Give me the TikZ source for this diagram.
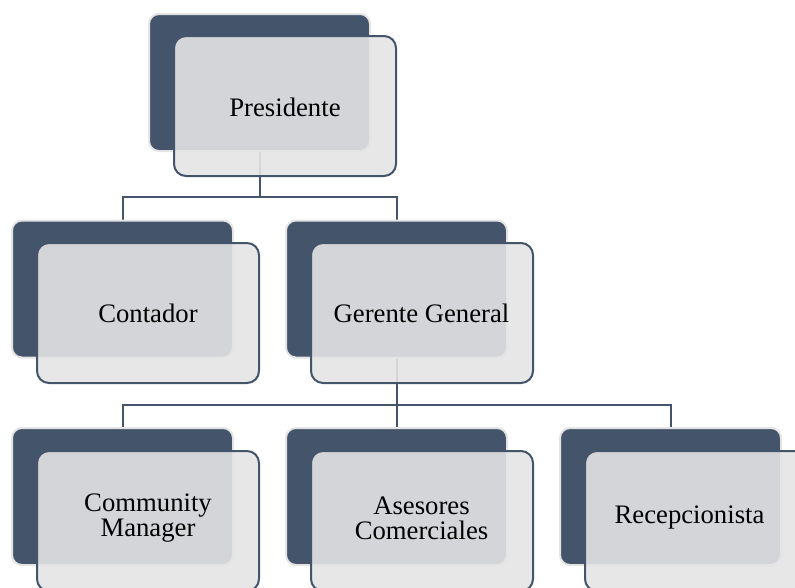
\documentclass[tikz,border=0pt]{standalone}
\usepackage{fontspec}
\setmainfont{Liberation Serif}
\usetikzlibrary{calc}
\definecolor{slate}{RGB}{68,84,106}
\definecolor{rim}{RGB}{228,228,228}
\definecolor{pane}{RGB}{228,228,228}
\tikzset{
  backbox/.style={rectangle, rounded corners=10pt, fill=slate, draw=rim,
    line width=2pt, minimum width=221pt, minimum height=137pt, inner sep=0pt},
  frontbox/.style={rectangle, rounded corners=12pt, fill=pane, fill opacity=0.9,
    draw=slate, line width=2pt, minimum width=222pt, minimum height=140pt, inner sep=0pt},
  label/.style={align=center, font=\fontsize{26.7}{25}\selectfont, text=black, inner sep=0pt},
  link/.style={draw=slate, line width=2pt}
}
\begin{document}
\begin{tikzpicture}[x=1pt,y=-1pt]
  \useasboundingbox (0,0) rectangle (795,587);
  \clip (0,0) rectangle (795,587);

  % coordinates of the back boxes
  \coordinate (presC) at (259.5,82.5);
  \coordinate (contC) at (122.5,289);
  \coordinate (gereC) at (396.5,289);
  \coordinate (commC) at (122.5,496.5);
  \coordinate (aseC)  at (396.5,496.5);
  \coordinate (recC)  at (670.5,496.5);

  % connectors (drawn first so boxes sit on top)
  \draw[link] (presC) -- ++(0,114.5) coordinate (j1) -| (contC);
  \draw[link] (j1) -| (gereC);
  \draw[link] (gereC) -- ++(0,116) coordinate (j2) -| (commC);
  \draw[link] (j2) -| (aseC);
  \draw[link] (j2) -| (recC);

  % back boxes
  \node[backbox] (presB) at (presC) {};
  \node[backbox] (contB) at (contC) {};
  \node[backbox] (gereB) at (gereC) {};
  \node[backbox] (commB) at (commC) {};
  \node[backbox] (aseB)  at (aseC)  {};
  \node[backbox] (recB)  at (recC)  {};

  % front boxes
  \node[frontbox] (presF) at ($(presC)+(25.5,23.5)$) {};
  \node[frontbox] (contF) at ($(contC)+(25.5,24)$) {};
  \node[frontbox] (gereF) at ($(gereC)+(25.5,24)$) {};
  \node[frontbox] (commF) at ($(commC)+(25.5,24.5)$) {};
  \node[frontbox] (aseF)  at ($(aseC)+(25.5,24.5)$) {};
  \node[frontbox] (recF)  at ($(recC)+(25.5,24.5)$) {};

  % texts
  \node[label] (presT) at (285,107) {Presidente};
  \node[label] (contT) at (148,313) {Contador};
  \node[label] (gereT) at (421.5,313) {Gerente General};
  \node[label] (commT) at (148,518) {Community\\Manager};
  \node[label] (aseT)  at (421.5,518) {Asesores\\Comerciales};
  \node[label] (recT)  at (689.5,517) {Recepcionista};
\end{tikzpicture}
\end{document}
